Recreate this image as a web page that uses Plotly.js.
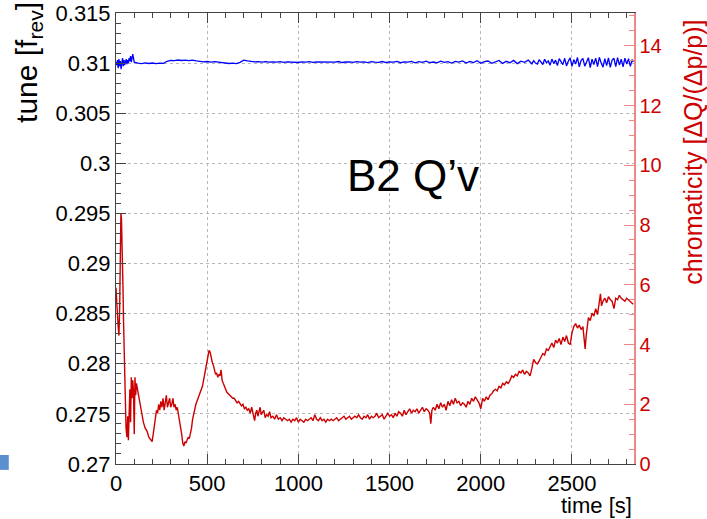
<!DOCTYPE html>
<html>
<head>
<meta charset="utf-8">
<script src="https://cdn.plot.ly/plotly-3.0.1.min.js"></script>
<style>html,body{margin:0;padding:0;background:#fff;}#chart{width:707px;height:519px;}</style>
</head>
<body>
<div id="chart"></div>
<script>
// ---- tune (blue, left axis) ----
const tuneTime = [0,4,8,12,16,20,24,28,32,36,40,44,48,52,56,60,64,68,72,76,80,84,88,92,96,100,
120,140,160,180,200,220,240,260,280,300,320,340,360,380,400,420,440,460,480,500,520,540,560,580,600,620,640,660,680,700,720,740,760,780,800,
820,840,860,880,900,920,940,960,980,1000,1020,1040,1060,1080,1100,1120,1140,1160,1180,1200,1220,1240,1260,1280,1300,1320,1340,1360,1380,1400,1420,1440,1460,1480,1500,
1520,1540,1560,1580,1600,1620,1640,1660,1680,1700,1720,1740,1760,1780,1800,1820,1840,1860,1880,1900,1920,1940,1960,1980,2000,2020,2040,2060,2080,2100,2120,2140,2160,2180,2200,2220,2240,2260,2280,
2290,2300,2310,2320,2330,2340,2350,2360,2370,2380,2390,2400,2410,2420,2430,2440,2450,2460,2470,2480,2490,2500,2510,2520,2530,2540,2550,2560,2570,2580,2590,2600,2610,2620,2630,2640,2650,2660,2670,2680,2690,2700,2710,2720,2730,2740,2750,2760,2770,2780,2790,2800,2810,2820,2830,2836];
const tuneValue = [0.3101,0.3098,0.3103,0.3095,0.3104,0.3097,0.3102,0.3094,0.3100,0.3105,0.3097,0.3103,0.3098,0.3102,0.3104,0.3099,0.3103,0.3100,0.3105,0.3102,0.3107,0.3101,0.3104,0.3109,0.3105,0.3101,
0.31000,0.30995,0.31002,0.30996,0.31001,0.30994,0.31000,0.30997,0.31018,0.31028,0.31025,0.31031,0.31026,0.31030,0.31024,0.31029,0.31022,0.31015,0.31012,0.31016,0.31010,0.31014,0.31008,0.31004,0.30999,0.30996,0.31000,0.30995,0.31008,0.31030,0.31022,0.31016,0.31012,0.31015,0.31010,
0.31014,0.31009,0.31013,0.31010,0.31015,0.31008,0.31012,0.31010,0.31013,0.31006,0.31012,0.31009,0.31014,0.31008,0.31011,0.31010,0.31015,0.31007,0.31012,0.31009,0.31016,0.31006,0.31011,0.31013,0.31007,0.31014,0.31009,0.31012,0.31005,0.31015,0.31010,0.31008,0.31016,0.31006,0.31013,
0.31009,0.31018,0.31004,0.31012,0.31010,0.31017,0.31003,0.31014,0.31008,0.31019,0.31005,0.31011,0.31002,0.31020,0.31007,0.31015,0.31001,0.31018,0.31010,0.31022,0.31000,0.31016,0.31006,0.31024,0.30999,0.31014,0.31021,0.30998,0.31012,0.31026,0.30997,0.31018,0.31004,0.31027,0.30995,0.31020,0.31008,0.31030,0.30993,
0.31025,0.31000,0.30990,0.31034,0.31010,0.30986,0.31038,0.31002,0.31022,0.30980,
0.31040,0.30995,0.31030,0.30976,0.31044,0.31008,0.30985,0.31048,0.30972,0.31020,
0.31052,0.30968,0.31035,0.30990,0.31056,0.30962,0.31028,0.31046,0.30970,0.31010,
0.31054,0.30955,0.31040,0.30985,0.31050,0.30966,0.31058,0.31000,0.30960,0.31045,
0.30975,0.31052,0.30958,0.31030,0.31048,0.30965,0.31055,0.30980,0.31040,0.30962,
0.31050,0.30990,0.31044,0.30968,0.31035,0.31010];

// ---- chromaticity (red, right axis) ----
const chromaTime = [0,4,8,12,16,20,24,27,30,34,38,42,46,50,55,60,64,68,72,76,80,84,88,92,96,100,104,108,112,118,125,132,140,150,160,170,180,190,198,204,210,216,222,228,234,240,246,252,258,264,270,276,282,288,294,300,306,312,318,324,330,336,342,348,354,360,366,372,378,384,390,396,402,408,414,420,426,432,438,444,450,456,462,468,474,480,486,492,498,504,510,516,522,528,534,540,546,552,558,564,570,576,582,588,594,600,608,616,624,632,640,648,656,664,672,680,688,696,704,712,720,728,736,744,752,760,766,772,778,784,790,796,802,810,818,826,834,842,850,860,870,880,890,900,910,920,930,940,950,960,970,980,990,1000,1010,1020,1030,1040,1050,1060,1070,1080,1090,1100,1110,1120,1130,1140,1150,1160,1170,1180,1190,1200,1210,1220,1230,1240,1250,1260,1270,1280,1290,1300,1310,1320,1330,1340,1350,1360,1370,1380,1390,1400,1410,1420,1430,1440,1450,1460,1470,1480,1490,1500,1510,1520,1530,1540,1550,1560,1570,1580,1590,1600,1610,1620,1630,1640,1650,1660,1670,1680,1690,1700,1710,1720,1726,1732,1740,1750,1760,1770,1780,1790,1800,1810,1820,1830,1840,1850,1860,1870,1880,1890,1900,1910,1920,1930,1940,1950,1960,1970,1980,1990,2000,2010,2020,2030,2040,2050,2060,2070,2080,2090,2100,2110,2120,2130,2140,2150,2160,2170,2180,2190,2200,2210,2220,2230,2240,2250,2260,2270,2280,2290,2300,2310,2320,2330,2340,2350,2360,2370,2380,2390,2400,2410,2420,2430,2440,2450,2460,2470,2480,2490,2500,2510,2520,2530,2540,2550,2560,2566,2572,2578,2584,2590,2600,2610,2620,2630,2640,2650,2656,2662,2670,2680,2690,2700,2710,2720,2730,2740,2750,2760,2770,2780,2790,2800,2810,2820,2830,2836];
const chromaValue = [5.9,5.6,5.0,4.6,4.3,5.2,7.6,8.4,8.2,7.4,6.0,4.6,3.3,2.0,1.2,0.9,1.6,0.8,1.8,2.5,1.4,2.9,2.2,2.8,2.4,1.0,2.9,2.3,2.7,2.5,2.2,2.0,1.7,1.4,1.2,1.1,0.9,0.8,0.75,1.0,1.3,1.6,1.8,1.7,2.0,1.8,2.1,1.9,2.2,1.8,2.0,2.3,1.9,2.1,2.2,1.9,2.0,2.2,1.9,2.0,1.8,1.9,1.7,1.5,1.3,1.0,0.7,0.6,0.75,0.7,0.8,0.9,0.85,1.0,1.2,1.5,1.7,1.9,2.0,2.1,2.2,2.3,2.4,2.5,2.6,2.8,3.0,3.2,3.4,3.6,3.8,3.75,3.5,3.4,3.3,3.1,3.0,3.05,2.9,3.0,2.95,3.15,2.8,2.7,2.6,2.55,2.4,2.35,2.3,2.25,2.2,2.2,2.1,2.05,2.1,2.0,1.95,2.0,1.85,1.9,1.8,1.85,1.7,1.9,1.65,1.45,1.7,1.8,1.6,1.75,1.9,1.65,1.7,1.8,1.55,1.65,1.6,1.75,1.55,1.6,1.5,1.65,1.5,1.55,1.45,1.55,1.5,1.45,1.5,1.4,1.5,1.45,1.55,1.4,1.5,1.45,1.4,1.5,1.45,1.5,1.55,1.45,1.65,1.5,1.45,1.55,1.45,1.5,1.4,1.5,1.45,1.5,1.45,1.5,1.55,1.45,1.5,1.55,1.6,1.5,1.55,1.6,1.5,1.55,1.6,1.55,1.65,1.55,1.5,1.6,1.55,1.65,1.5,1.6,1.55,1.6,1.7,1.55,1.6,1.65,1.5,1.6,1.7,1.6,1.65,1.55,1.7,1.6,1.75,1.7,1.6,1.8,1.65,1.75,1.85,1.7,1.8,1.75,1.85,1.7,1.8,1.9,1.75,1.85,1.8,1.7,1.35,1.8,1.9,1.8,2.0,1.85,2.05,1.9,2.0,1.8,2.1,1.95,2.15,2.0,2.2,2.05,2.1,1.95,2.05,2.0,1.9,2.1,2.0,2.2,2.1,2.25,2.15,2.05,1.85,2.2,2.1,2.25,2.15,2.3,2.35,2.45,2.5,2.45,2.6,2.55,2.7,2.65,2.75,2.7,2.8,2.95,2.9,3.0,2.95,3.1,3.05,3.15,3.0,3.1,3.05,2.95,3.2,3.5,3.4,3.35,3.45,3.6,3.7,3.65,3.85,3.8,3.95,4.05,3.9,4.15,4.05,4.2,4.0,4.25,4.1,4.3,4.05,4.0,4.4,4.6,4.7,4.55,4.65,4.5,4.6,4.2,3.85,4.3,4.7,4.9,4.8,5.05,4.95,5.2,5.0,5.4,5.7,5.3,5.45,5.55,5.4,5.6,5.5,5.45,5.2,5.55,5.5,5.65,5.55,5.5,5.45,5.55,5.5,5.45,5.4,5.35];

// ---- tick labels ----
const tuneTicks = [0.27,0.275,0.28,0.285,0.29,0.295,0.3,0.305,0.31,0.315];
const tuneTickText = ["0.27","0.275","0.28","0.285","0.29","0.295","0.3","0.305","0.31","0.315"];
const timeTicks = [0,500,1000,1500,2000,2500];
const chromaTicks = [0,2,4,6,8,10,12,14];

const FONT = "Liberation Sans, Arial, sans-serif";
const RED = "#cc0000";

const traces = [
  {x: tuneTime, y: tuneValue, type: "scatter", mode: "lines", yaxis: "y",
   line: {color: "#0000ff", width: 1.3}, hoverinfo: "skip"},
  {x: chromaTime, y: chromaValue, type: "scatter", mode: "lines", yaxis: "y2",
   line: {color: RED, width: 1.4}, hoverinfo: "skip"}
];

const layout = {
  width: 707, height: 519,
  margin: {l: 116, r: 73, t: 13, b: 55},
  paper_bgcolor: "#fff", plot_bgcolor: "#fff",
  showlegend: false,
  font: {family: FONT, color: "#000"},
  xaxis: {
    range: [0, 2840], tickvals: timeTicks, ticktext: timeTicks.map(String),
    ticks: "inside", ticklen: 10, tickwidth: 1, tickcolor: "#444",
    minor: {dtick: 100, tick0: 0, ticks: "inside", ticklen: 5, tickcolor: "#444", showgrid: false},
    showline: true, linecolor: "#444", linewidth: 1, mirror: "ticks",
    showgrid: true, gridcolor: "#b8b8b8", griddash: "dot", gridwidth: 1,
    zeroline: false, tickfont: {size: 22, family: FONT, color: "#000"}
  },
  yaxis: {
    range: [0.27, 0.315], tickvals: tuneTicks, ticktext: tuneTickText,
    ticks: "inside", ticklen: 10, tickwidth: 1, tickcolor: "#444",
    minor: {dtick: 0.001, tick0: 0.27, ticks: "inside", ticklen: 5, tickcolor: "#444", showgrid: false},
    showline: true, linecolor: "#444", linewidth: 1,
    showgrid: true, gridcolor: "#b8b8b8", griddash: "dot", gridwidth: 1,
    zeroline: false, tickfont: {size: 22, family: FONT, color: "#000"}
  },
  yaxis2: {
    overlaying: "y", side: "right", range: [0, 15.1],
    tickvals: chromaTicks, ticktext: chromaTicks.map(String),
    ticks: "inside", ticklen: 10, tickwidth: 1, tickcolor: "#ee8888",
    minor: {dtick: 0.5, tick0: 0, ticks: "inside", ticklen: 5, tickcolor: "#ee8888", showgrid: false},
    showline: true, linecolor: "#ee8888", linewidth: 1.5,
    showgrid: false, zeroline: false,
    tickfont: {size: 20, family: FONT, color: RED}
  },
  annotations: [
    {text: "B2 Q\u2019v", xref: "paper", yref: "paper", x: 0.573, y: 0.639,
     xanchor: "center", yanchor: "middle", showarrow: false,
     font: {size: 44, family: FONT, color: "#000"}},
    {text: "time [s]", xref: "paper", yref: "paper", x: 1.0, y: -0.093,
     xanchor: "right", yanchor: "middle", showarrow: false,
     font: {size: 22, family: FONT, color: "#000"}},
    {text: "tune [f<sub>rev</sub>]", xref: "paper", yref: "paper", x: -0.168, y: 1.03,
     xanchor: "center", yanchor: "top", textangle: -90, showarrow: false,
     font: {size: 30, family: FONT, color: "#000"}},
    {text: "chromaticity [\u0394Q/(\u0394p/p)]", xref: "paper", yref: "paper", x: 1.114, y: 0.69,
     xanchor: "center", yanchor: "middle", textangle: -90, showarrow: false,
     font: {size: 25, family: FONT, color: RED}}
  ],
  shapes: [
    {type: "rect", xref: "paper", yref: "paper", x0: -0.224, x1: -0.207, y0: -0.013, y1: 0.02,
     fillcolor: "#5a8fd0", line: {width: 0}, layer: "above"}
  ]
};

Plotly.newPlot("chart", traces, layout, {staticPlot: true, displayModeBar: false});
</script>
</body>
</html>
